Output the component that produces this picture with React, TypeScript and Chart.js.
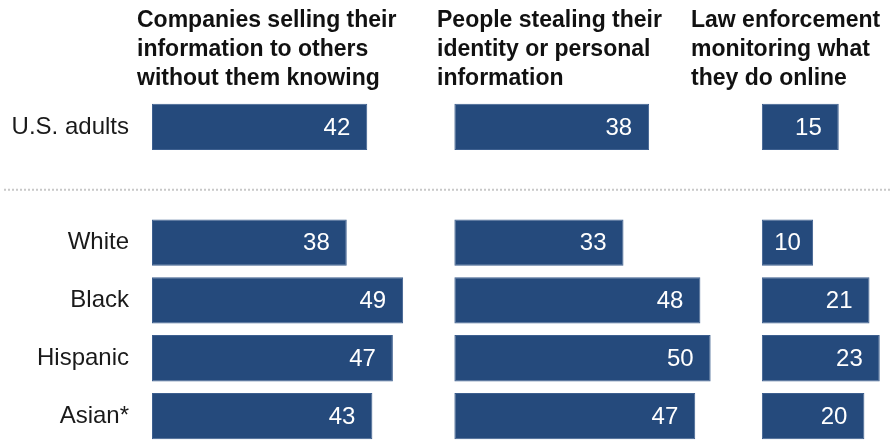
import React, { useEffect, useRef } from "react";
import { Chart, registerables } from "chart.js";

Chart.register(...registerables);

// Share of each group that is very/somewhat concerned about each threat
const groups = ["U.S. adults", "White", "Black", "Hispanic", "Asian*"];
const sellingInfo = [42, 38, 49, 47, 43];
const stealingIdentity = [38, 33, 48, 50, 47];
const lawEnforcement = [15, 10, 21, 23, 20];

const panelTitles = [
  ["Companies selling their", "information to others", "without them knowing"],
  ["People stealing their", "identity or personal", "information"],
  ["Law enforcement", "monitoring what", "they do online"],
];

// Category rows: the overall figure, a spacer row, then the groups
const rowLabels = [groups[0], "", ...groups.slice(1)];

// Each panel is drawn on the shared x scale, shifted by its own start
const panelStarts = [0, 59, 119];
const panelTitleX = [137, 437, 691];
const BAR = "#254a7c";

function toRows(values: number[], start: number) {
  const rows: ([number, number] | null)[] = values.map((v) => [start, start + v]);
  rows.splice(1, 0, null);
  return rows;
}

const decorations = {
  id: "decorations",
  afterDatasetsDraw(chart: any) {
    const ctx = chart.ctx;
    const yScale = chart.scales.y;
    ctx.save();

    // panel headings
    ctx.fillStyle = "#111";
    ctx.font = "bold 23px 'Liberation Sans', Arial, sans-serif";
    ctx.textAlign = "left";
    ctx.textBaseline = "alphabetic";
    panelTitles.forEach((lines, p) => {
      lines.forEach((line, i) => {
        ctx.fillText(line, panelTitleX[p], 27 + i * 28.8);
      });
    });

    // dotted separator under the overall row
    const ySep = (yScale.getPixelForValue(0) + yScale.getPixelForValue(2)) / 2 + 5;
    ctx.strokeStyle = "#c8c8c8";
    ctx.lineWidth = 2;
    ctx.setLineDash([2, 2]);
    ctx.beginPath();
    ctx.moveTo(4, ySep);
    ctx.lineTo(chart.width, ySep);
    ctx.stroke();
    ctx.setLineDash([]);

    // value labels inside the bars
    ctx.fillStyle = "#ffffff";
    ctx.font = "24px 'Liberation Sans', Arial, sans-serif";
    ctx.textAlign = "right";
    ctx.textBaseline = "middle";
    chart.data.datasets.forEach((ds: any, di: number) => {
      const meta = chart.getDatasetMeta(di);
      meta.data.forEach((bar: any, j: number) => {
        const raw = ds.data[j];
        if (!raw) return;
        const value = raw[1] - raw[0];
        const text = String(value);
        const w = ctx.measureText(text).width;
        const left = Math.min(bar.x, bar.base);
        const right = Math.max(bar.x, bar.base);
        const xr = Math.max(right - 17, (left + right) / 2 + w / 2);
        ctx.fillText(text, xr, bar.y + 1);
      });
    });

    ctx.restore();
  },
};

export default function App() {
  const canvasRef = useRef<HTMLCanvasElement | null>(null);

  useEffect(() => {
    if (!canvasRef.current) return;
    const chart = new Chart(canvasRef.current, {
      type: "bar",
      data: {
        labels: rowLabels,
        datasets: [
          { label: "Selling info", data: toRows(sellingInfo, panelStarts[0]) as any },
          { label: "Stealing identity", data: toRows(stealingIdentity, panelStarts[1]) as any },
          { label: "Law enforcement", data: toRows(lawEnforcement, panelStarts[2]) as any },
        ].map((d) => ({
          ...d,
          backgroundColor: BAR,
          borderColor: "#3d5f8f",
          borderWidth: 1,
          borderSkipped: false,
          grouped: false,
          barPercentage: 0.8,
          categoryPercentage: 1,
        })),
      },
      options: {
        indexAxis: "y",
        animation: false,
        responsive: true,
        maintainAspectRatio: false,
        layout: { padding: { top: 98, left: 0, right: 0, bottom: 0 } },
        plugins: {
          legend: { display: false },
          tooltip: { enabled: false },
        },
        scales: {
          x: { type: "linear", min: 0, max: 144, display: false },
          y: {
            grid: { display: false, drawTicks: false },
            border: { display: false },
            ticks: {
              color: "#1a1a1a",
              padding: 23,
              font: { family: "'Liberation Sans', Arial, sans-serif", size: 24 },
            },
            afterFit(scale: any) {
              scale.width = 152;
              scale.paddingTop = 0;
              scale.paddingBottom = 0;
            },
          },
        },
      },
      plugins: [decorations],
    });
    return () => chart.destroy();
  }, []);

  return (
    <div
      style={{
        position: "fixed",
        left: 0,
        top: 0,
        width: 890,
        height: 440,
        overflow: "hidden",
        background: "#ffffff",
      }}
    >
      <div style={{ position: "relative", width: 890, height: 445 }}>
        <canvas ref={canvasRef} />
      </div>
    </div>
  );
}
